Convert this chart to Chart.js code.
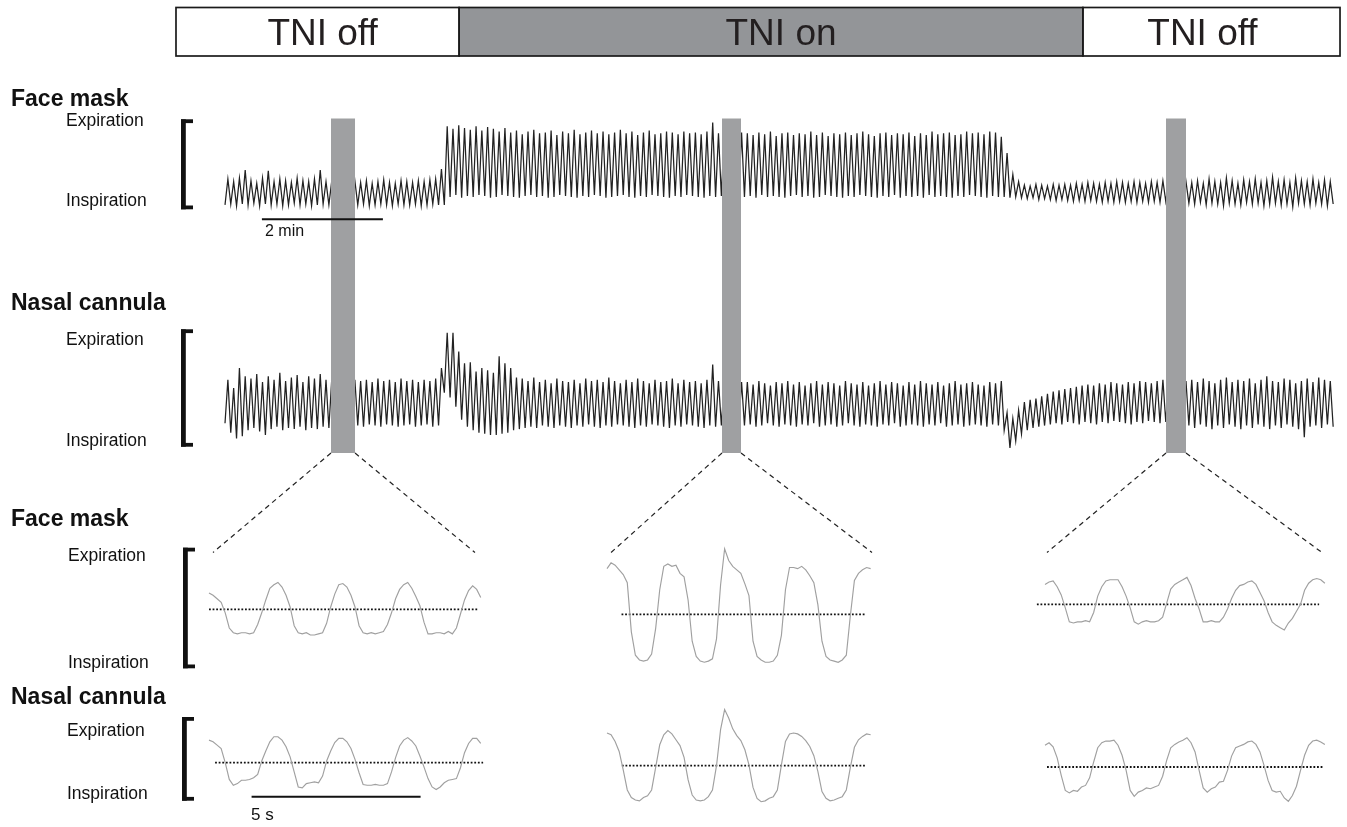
<!DOCTYPE html>
<html><head><meta charset="utf-8">
<script src="https://cdn.jsdelivr.net/npm/chart.js@4/dist/chart.umd.min.js"></script>
<style>
html,body{margin:0;padding:0;background:#fff;}
#wrap{position:relative;width:1347px;height:827px;overflow:hidden;font-family:"Liberation Sans",Arial,sans-serif;color:#111;}
#wrap canvas{position:absolute;}
.lbl{position:absolute;white-space:nowrap;line-height:1;}
.h{font-weight:bold;font-size:23px;}
.s{font-size:17.5px;}
</style></head><body>
<div id="wrap">
<canvas id="main" width="1347" height="827" style="left:0;top:0"></canvas>
<div class="lbl h" style="left:11px;top:87px">Face mask</div>
<div class="lbl s" style="left:66px;top:112px">Expiration</div>
<div class="lbl s" style="left:66px;top:192px">Inspiration</div>
<div class="lbl h" style="left:11px;top:290.5px">Nasal cannula</div>
<div class="lbl s" style="left:66px;top:331px">Expiration</div>
<div class="lbl s" style="left:66px;top:432px">Inspiration</div>
<div class="lbl h" style="left:11px;top:507px">Face mask</div>
<div class="lbl s" style="left:68px;top:547px">Expiration</div>
<div class="lbl s" style="left:68px;top:653.5px">Inspiration</div>
<div class="lbl h" style="left:11px;top:684.5px">Nasal cannula</div>
<div class="lbl s" style="left:67px;top:722px">Expiration</div>
<div class="lbl s" style="left:67px;top:785px">Inspiration</div>
<div class="lbl" style="left:265px;top:222.5px;font-size:16px">2 min</div>
<div class="lbl" style="left:251px;top:805.5px;font-size:17px">5 s</div>
</div>
<script>
// ---------------- DATA ----------------
const phaseLabels = ['TNI off', 'TNI on', 'TNI off'];
const phaseOn = [false, true, false];
const phaseBoundsMin = [-0.81, 3.87, 14.18, 18.43];

const breathPeriodMin = 0.0954;   // one breath per sample pair

// Face mask, long recording (0 = inspiration end of bracket, 100 = expiration end)
const fmPeaks = [
33,30,34,43,31,28,34,42,30,33,31,29,34,31,30,33,43,30,
31,30,32,29,31,
29,31,28,30,32,29,28,31,30,29,31,30,32,33,
44,
92,89,93,90,88,92,87,91,89,86,90,
85,87,83,86,88,84,85,87,82,86,84,88,83,85,87,84,86,83,85,88,84,86,82,85,87,83,84,86,85,83,86,84,85,83,86,96,
84,
85,84,86,85,
84,82,85,83,86,81,84,85,82,84,83,86,82,85,81,84,83,85,82,84,86,83,81,84,85,82,84,83,85,81,84,82,86,83,84,85,82,83,86,84,85,83,86,85,
80,62,38,30,
26,25,27,26,25,27,26,27,26,28,27,29,28,27,29,28,30,29,28,30,29,28,30,29,31,
30,29,31,30,
29,31,28,33,30,29,34,31,28,32,30,33,29,31,35,30,32,29,34,31,30,33,29,32,30];
const fmTroughs = [
4,5,3,5,4,6,3,5,4,5,3,4,6,4,5,3,4,5,4,
5,4,5,4,
4,5,3,4,5,4,3,5,4,4,5,3,4,5,4,
4,
13,15,12,14,13,15,14,12,13,15,14,13,12,14,15,13,14,12,13,15,14,13,12,14,13,15,14,12,13,14,15,13,12,14,13,15,14,13,12,14,13,15,14,13,12,14,13,
14,13,14,13,
13,14,12,15,13,14,13,12,14,15,13,14,12,13,15,14,13,12,14,13,15,14,13,12,14,13,15,12,14,13,14,12,15,13,14,13,12,14,13,15,14,13,12,14,13,
13,12,13,
12,11,12,10,11,10,9,10,9,8,9,8,9,8,7,8,7,8,7,8,7,8,7,8,7,8,
7,8,7,
6,5,7,4,6,5,3,6,5,4,7,5,6,3,5,6,4,5,2,6,5,4,6,5,3,5];

// Nasal cannula, long recording
const ncPeaks = [
57,50,67,60,58,62,55,60,57,63,56,59,61,55,60,58,62,57,
58,57,59,58,57,
56,57,55,58,56,57,55,58,56,57,55,57,56,58,
67,
97,97,81,71,72,64,67,65,63,77,71,67,59,
58,56,59,55,57,54,58,56,55,57,54,58,56,57,55,59,56,54,57,55,58,56,54,57,55,56,58,54,57,55,56,54,57,70,
56,
55,56,54,55,
55,53,56,54,52,55,54,56,53,55,52,54,56,53,55,54,52,56,54,53,55,52,54,56,53,55,54,52,55,53,56,54,53,55,52,54,56,53,54,55,53,52,55,54,56,
29,24,31,38,40,41,43,45,
47,48,49,50,51,52,53,52,54,53,55,54,53,55,54,56,55,54,56,57,
56,55,57,56,
57,55,58,56,54,57,59,55,57,56,58,54,57,60,56,55,58,57,54,56,58,55,59,57,56];
const ncTroughs = [
20,12,7,9,14,16,13,10,15,17,14,16,15,17,14,16,15,17,16,
16,17,16,17,
18,17,19,18,17,19,18,17,18,19,17,18,19,17,18,
46,42,34,23,17,14,12,11,10,10,11,12,14,
15,16,17,16,18,17,16,18,17,16,18,17,19,17,16,18,17,19,18,17,16,18,17,19,18,17,16,18,17,19,18,17,16,18,17,
18,17,18,17,
18,19,17,18,20,18,17,19,18,17,19,18,20,17,18,19,17,18,20,18,17,19,18,17,19,18,20,17,18,19,18,17,19,18,20,17,18,19,17,18,19,18,17,19,18,14,
-1,5,11,14,16,17,18,
19,20,19,21,20,19,21,20,19,21,20,22,21,20,19,21,20,22,21,20,21,
20,21,20,
18,16,19,17,15,18,16,19,17,15,18,16,19,17,15,18,16,19,17,15,8,17,18,16,19,17];

// zoomed windows (minutes) shown as grey bars
const zoomWindowsMin = [[1.752, 2.149], [8.215, 8.529], [15.554, 15.884]];
const scaleBarMin = [0.61, 2.61];   // "2 min"

// zoomed panels: samples every zoomSampleSec, 0 = zero-flow (dotted) line
const zoomSampleSec = 0.12;
const fmZoomOff1 = [14,12,9,6,-3,-16,-20,-21,-20,-20,-21,-20,-13,-3,8,18,21,23,19,12,2,-14,-20,-21,-20,-22,-22,-21,-20,-12,2,13,21,22,19,12,2,-14,-20,-21,-20,-21,-20,-19,-13,-3,9,17,21,23,18,11,3,-11,-21,-21,-20,-20,-21,-19,-21,-16,-4,8,16,20,17,10];
const fmZoomOn = [39,44,42,38,34,27,-15,-35,-39,-40,-39,-34,-12,21,41,43,41,42,35,32,12,-23,-36,-40,-41,-40,-38,-21,25,56,46,41,38,35,26,16,-23,-36,-39,-41,-41,-40,-35,-18,21,40,40,39,41,38,33,27,8,-23,-36,-39,-40,-41,-39,-35,-1,29,35,38,40,39];
const fmZoomOff2 = [17,19,20,15,8,-3,-15,-16,-15,-15,-14,-15,-7,7,15,20,21,21,21,15,7,-3,-15,-17,-15,-14,-15,-15,-14,-11,1,13,17,19,21,23,16,5,-4,-15,-15,-14,-15,-15,-11,-4,5,12,16,17,19,20,17,10,3,-7,-15,-18,-20,-22,-16,-12,-6,0,12,18,21,22,21,18];
const ncZoomOff1 = [27,25,21,17,0,-20,-27,-25,-21,-21,-20,-18,-14,2,14,25,31,31,27,19,7,-11,-29,-30,-25,-24,-23,-24,-16,2,14,24,29,29,25,17,4,-12,-26,-27,-27,-26,-27,-27,-25,-11,6,20,27,30,26,20,8,-5,-19,-29,-32,-29,-24,-21,-20,-19,-6,12,23,29,29,23];
const ncZoomOn = [39,37,29,17,-5,-29,-38,-41,-42,-38,-36,-29,-2,25,37,42,38,31,24,10,-17,-35,-41,-42,-41,-37,-29,0,43,67,57,44,36,30,19,1,-26,-39,-43,-42,-39,-37,-29,1,29,38,39,38,35,30,23,12,-7,-31,-39,-42,-41,-39,-37,-29,-2,22,31,35,38,37];
const ncZoomOff2 = [26,29,24,11,-10,-28,-31,-28,-29,-24,-22,-13,6,23,29,31,31,32,26,14,-4,-28,-35,-30,-28,-25,-26,-24,-22,-11,8,23,27,30,32,35,29,18,-4,-25,-30,-26,-24,-18,-17,-4,13,23,25,27,30,31,27,18,2,-16,-28,-30,-29,-37,-41,-34,-23,-4,14,26,31,32,30,27];
const zeroLineSec = [[0,7.96],[0.43,7.66],[-0.24,8.11],[0.18,8.11],[0.44,7.66],[0.06,8.25]];
const scaleBarSec = [1.26, 6.26];   // "5 s"

// ---------------- LAYOUT ----------------
const W = 1347, H = 827;
const PX_PER_MIN = 60.5, TRACE_X0 = 225;
const PX_PER_SEC = 33.8;
const FM_AXIS = {px0: 208.5, px100: 119};
const NC_AXIS = {px0: 446.7, px100: 329.3};
const BAR_TOP = 118.5, BAR_BOTTOM = 453;
const CONNECT = [[213, 475], [611, 872], [1047, 1322]], CONNECT_Y = 552.5;
const BRACKETS = [[181, 119.3, 209.3], [181, 329.3, 446.7], [183, 547.7, 668.3], [182, 717, 800.7]];
const BANNER = {top: 7.5, bottom: 56, offs: [5, 10, -9]};
const SCALE2MIN_Y = 219.3, SCALE5S_Y = 796.7;

function axisRange(a, h) {
  const k = (a.px0 - a.px100) / 100;
  return {min: -(h - a.px0) / k, max: a.px0 / k};
}
function traceData(peaks, troughs) {
  const d = [];
  for (let i = 0; i < troughs.length; i++) {
    d.push({x: i * breathPeriodMin, y: troughs[i]});
    if (i < peaks.length) d.push({x: (i + 0.5) * breathPeriodMin, y: peaks[i]});
  }
  return d;
}
const baseOpts = {
  responsive: false, animation: false, events: [],
  layout: {padding: 0},
  plugins: {legend: {display: false}, tooltip: {enabled: false}},
  elements: {point: {radius: 0}, line: {tension: 0}}
};

const decor = {
  id: 'decor',
  afterDatasetsDraw(chart) {
    const ctx = chart.ctx, x = chart.scales.x;
    ctx.save();
    // grey windows + dashed connectors
    zoomWindowsMin.forEach((w, k) => {
      const xa = x.getPixelForValue(w[0]), xb = x.getPixelForValue(w[1]);
      ctx.fillStyle = '#9a9b9d';
      ctx.fillRect(xa, BAR_TOP, xb - xa, BAR_BOTTOM - BAR_TOP);
      ctx.fillStyle = 'rgba(255,255,255,0.10)';
      for (let y = BAR_TOP; y < BAR_BOTTOM; y += 2) ctx.fillRect(xa, y, xb - xa, 1);
      ctx.setLineDash([5, 4]); ctx.strokeStyle = '#222'; ctx.lineWidth = 1.2;
      ctx.beginPath();
      ctx.moveTo(xa, BAR_BOTTOM); ctx.lineTo(CONNECT[k][0], CONNECT_Y);
      ctx.moveTo(xb, BAR_BOTTOM); ctx.lineTo(CONNECT[k][1], CONNECT_Y);
      ctx.stroke(); ctx.setLineDash([]);
    });
    // banner
    for (let i = 0; i < phaseLabels.length; i++) {
      const x0 = x.getPixelForValue(phaseBoundsMin[i]), x1 = x.getPixelForValue(phaseBoundsMin[i + 1]);
      if (phaseOn[i]) { ctx.fillStyle = '#939598'; ctx.fillRect(x0, BANNER.top, x1 - x0, BANNER.bottom - BANNER.top); }
      ctx.strokeStyle = '#1a1a1a'; ctx.lineWidth = 1.7;
      ctx.strokeRect(x0, BANNER.top, x1 - x0, BANNER.bottom - BANNER.top);
      ctx.fillStyle = '#231f20'; ctx.font = '37px "Liberation Sans", Arial, sans-serif';
      ctx.textAlign = 'center'; ctx.textBaseline = 'alphabetic';
      ctx.fillText(phaseLabels[i], (x0 + x1) / 2 + BANNER.offs[i], 45);
    }
    // brackets
    ctx.fillStyle = '#111';
    BRACKETS.forEach(([bx, t, b]) => {
      ctx.fillRect(bx, t, 4.8, b - t);
      ctx.fillRect(bx, t, 12, 3.8);
      ctx.fillRect(bx, b - 3.8, 12, 3.8);
    });
    // 2 min scale bar
    ctx.strokeStyle = '#111'; ctx.lineWidth = 2;
    ctx.beginPath();
    ctx.moveTo(x.getPixelForValue(scaleBarMin[0]), SCALE2MIN_Y);
    ctx.lineTo(x.getPixelForValue(scaleBarMin[1]), SCALE2MIN_Y);
    ctx.stroke();
    ctx.restore();
  }
};

const fmR = axisRange(FM_AXIS, H), ncR = axisRange(NC_AXIS, H);
new Chart(document.getElementById('main'), {
  type: 'line',
  data: {datasets: [
    {data: traceData(fmPeaks, fmTroughs), yAxisID: 'yFM', borderColor: '#222', borderWidth: 1.25, pointRadius: 0, fill: false},
    {data: traceData(ncPeaks, ncTroughs), yAxisID: 'yNC', borderColor: '#222', borderWidth: 1.25, pointRadius: 0, fill: false}
  ]},
  options: Object.assign({}, baseOpts, {
    scales: {
      x: {type: 'linear', display: false, min: -TRACE_X0 / PX_PER_MIN, max: (W - TRACE_X0) / PX_PER_MIN},
      yFM: {type: 'linear', display: false, min: fmR.min, max: fmR.max},
      yNC: {type: 'linear', display: false, min: ncR.min, max: ncR.max}
    }
  }),
  plugins: [decor]
});

// zoom panels
const PANEL_PAD = 20, PANEL_W = 310;
const panels = [
  {vals: fmZoomOff1, x0: 209, top: 540, h: 140, zero: 609.3, k: 1.17},
  {vals: fmZoomOn,   x0: 607, top: 540, h: 140, zero: 614.3, k: 1.17},
  {vals: fmZoomOff2, x0: 1045, top: 540, h: 140, zero: 604.3, k: 1.17},
  {vals: ncZoomOff1, x0: 209, top: 698, h: 129, zero: 762.7, k: 0.837, bar: true},
  {vals: ncZoomOn,   x0: 607, top: 698, h: 129, zero: 765.7, k: 0.837},
  {vals: ncZoomOff2, x0: 1045, top: 698, h: 129, zero: 767, k: 0.837}
];
const wrap = document.getElementById('wrap');
panels.forEach((p, idx) => {
  const c = document.createElement('canvas');
  c.width = PANEL_W; c.height = p.h;
  c.style.left = (p.x0 - PANEL_PAD) + 'px'; c.style.top = p.top + 'px';
  wrap.insertBefore(c, wrap.children[1]);
  const yMax = (p.zero - p.top) / p.k, yMin = -(p.top + p.h - p.zero) / p.k;
  const plug = {
    id: 'bar' + idx,
    afterDatasetsDraw(chart) {
      if (!p.bar) return;
      const ctx = chart.ctx, x = chart.scales.x;
      ctx.save(); ctx.strokeStyle = '#111'; ctx.lineWidth = 2;
      ctx.beginPath();
      ctx.moveTo(x.getPixelForValue(scaleBarSec[0]), SCALE5S_Y - p.top);
      ctx.lineTo(x.getPixelForValue(scaleBarSec[1]), SCALE5S_Y - p.top);
      ctx.stroke(); ctx.restore();
    }
  };
  new Chart(c, {
    type: 'line',
    data: {datasets: [
      {data: p.vals.map((v, i) => ({x: i * zoomSampleSec, y: v})), borderColor: '#a0a0a0', borderWidth: 1.15, pointRadius: 0, fill: false},
      {data: zeroLineSec[idx].map(t => ({x: t, y: 0})), borderColor: '#111', borderWidth: 1.8, borderDash: [1.8, 1.8], pointRadius: 0, fill: false}
    ]},
    options: Object.assign({}, baseOpts, {
      scales: {
        x: {type: 'linear', display: false, min: -PANEL_PAD / PX_PER_SEC, max: (PANEL_W - PANEL_PAD) / PX_PER_SEC},
        y: {type: 'linear', display: false, min: yMin, max: yMax}
      }
    }),
    plugins: [plug]
  });
});
</script>
</body></html>
